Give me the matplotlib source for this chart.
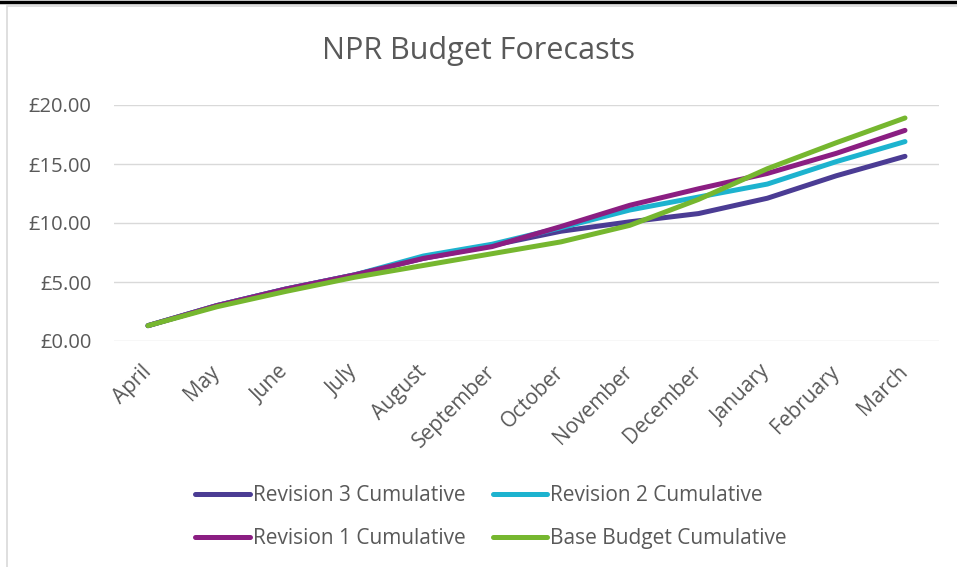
import numpy as np
import matplotlib
matplotlib.use('Agg')
import matplotlib.pyplot as plt
from matplotlib.lines import Line2D
from matplotlib.patches import Rectangle
from matplotlib.ticker import FuncFormatter

months = ['April', 'May', 'June', 'July', 'August', 'September', 'October',
          'November', 'December', 'January', 'February', 'March']
rev3 = [1.3, 3.0, 4.4, 5.6, 7.0, 8.1, 9.3, 10.1, 10.8, 12.1, 14.0, 15.65]
rev2 = [1.3, 3.0, 4.4, 5.6, 7.2, 8.2, 9.6, 11.1, 12.2, 13.3, 15.2, 16.9]
rev1 = [1.3, 3.0, 4.4, 5.6, 7.0, 8.0, 9.7, 11.5, 12.9, 14.2, 15.9, 17.85]
base = [1.3, 2.9, 4.2, 5.4, 6.4, 7.4, 8.4, 9.8, 12.0, 14.6, 16.8, 18.9]

series = [('Revision 3 Cumulative', rev3, '#4B3C94'),
          ('Revision 2 Cumulative', rev2, '#1DB3CF'),
          ('Revision 1 Cumulative', rev1, '#8B1E82'),
          ('Base Budget Cumulative', base, '#76B72F')]

plt.rcParams['font.family'] = ['Open Sans', 'DejaVu Sans']
txt = '#595959'

W, H = 957, 567
fig = plt.figure(figsize=(W / 100, H / 100), dpi=100)
ax = fig.add_axes([113.6 / W, 1 - 341 / H, (939.4 - 113.6) / W, (341 - 105) / H])

x = np.arange(len(months))
lines = []
for name, vals, col in series:
    l, = ax.plot(x, vals, color=col, lw=3.6, solid_capstyle='round',
                 solid_joinstyle='round', label=name)
    lines.append(l)

ax.set_xlim(-0.5, len(months) - 0.5)
ax.set_ylim(0, 20)
ax.set_yticks(np.arange(0, 21, 5))
ax.yaxis.set_major_formatter(FuncFormatter(lambda v, p: '£%.2f' % v))
ax.grid(axis='y', color='#D9D9D9', lw=1.0)
ax.set_axisbelow(True)
for s in ax.spines.values():
    s.set_visible(False)
ax.set_xticks(x)
ax.set_xticklabels(months, rotation=45, ha='right', va='center',
                   rotation_mode='anchor')
ax.tick_params(axis='both', length=0, labelsize=14.5, colors=txt)
ax.tick_params(axis='y', pad=16)
ax.tick_params(axis='x', labelsize=15, pad=20)

fig.text(0.5, 1 - 51 / H, 'NPR Budget Forecasts', ha='center', va='center',
         fontsize=22, color=txt)

# legend is filled row by row in the reference
order = [0, 2, 1, 3]
fig.legend([lines[i] for i in order], [series[i][0] for i in order],
           loc='center', bbox_to_anchor=(491 / W, 1 - 517 / H), ncol=2,
           frameon=False, fontsize=15, labelcolor=txt, handlelength=2.6,
           handletextpad=0.15, columnspacing=1.3, labelspacing=1.05)

# chart frame
fig.add_artist(Rectangle((7 / W, -0.1), 1.2, 1 - 6 / H + 0.1,
                         transform=fig.transFigure, fill=False,
                         edgecolor='#D9D9D9', lw=1.2))
fig.add_artist(Line2D([0, 1], [1 - 1.5 / H, 1 - 1.5 / H],
                      transform=fig.transFigure, color='black', lw=2.5))

fig.savefig('out.png', dpi=100)
